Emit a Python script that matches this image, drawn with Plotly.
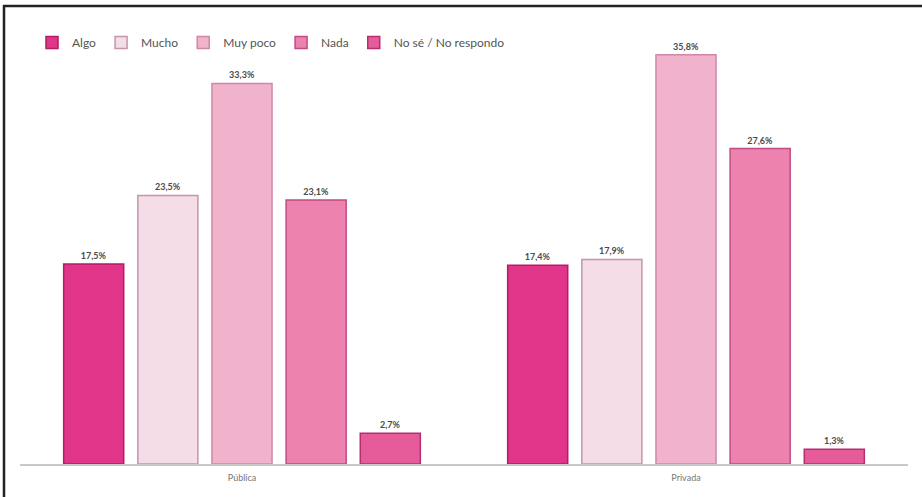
import plotly.graph_objects as go

categories = ["Pública", "Privada"]
series_names = ["Algo", "Mucho", "Muy poco", "Nada", "No sé / No respondo"]
algo = [17.5, 17.4]
mucho = [23.5, 17.9]
muy_poco = [33.3, 35.8]
nada = [23.1, 27.6]
no_se = [2.7, 1.3]
series_values = [algo, mucho, muy_poco, nada, no_se]

fills = ["#E1358A", "#F4DDE7", "#F1B2CC", "#EC82AD", "#E65C9B"]
lines = ["#B31C66", "#C495AB", "#D087AA", "#C04C86", "#B3306F"]

W, H = 922, 497
ml, mr, mt, mb = 20, 14, 40, 33
pw, ph = W - ml - mr, H - mt - mb

fig = go.Figure()
for name, vals, fc, lc in zip(series_names, series_values, fills, lines):
    fig.add_trace(go.Bar(
        x=categories, y=vals, name=name,
        marker=dict(color=fc, line=dict(color=lc, width=1.5)),
        text=[f"{v:.1f}%".replace(".", ",") for v in vals],
        textposition="outside", cliponaxis=False,
        textfont=dict(family="Lato", size=9, color="#4a4a4a", weight="bold"),
    ))

def px_x(p):
    return (p - ml) / pw

def px_y(p):
    return (H - mb - p) / ph

fig.update_layout(
    width=W, height=H,
    margin=dict(l=ml, r=mr, t=mt, b=mb),
    paper_bgcolor="white", plot_bgcolor="white",
    barmode="group", bargap=0.165, bargroupgap=0.19,
    font=dict(family="Lato", color="#555"),
    showlegend=True,
    legend=dict(orientation="h", x=px_x(32), xanchor="left", y=px_y(28), yanchor="top",
                font=dict(family="Lato", size=12, color="#555"),
                itemwidth=30, traceorder="normal", bgcolor="rgba(0,0,0,0)"),
    xaxis=dict(showgrid=False, showline=True, linecolor="#c8c8c8", linewidth=1.5,
               ticks="", tickfont=dict(family="Lato", size=9, color="#777"), ticklabelstandoff=4),
    yaxis=dict(range=[0, 37.1], visible=False, showgrid=False),
    shapes=[
        dict(type="line", xref="paper", yref="paper", x0=px_x(3), x1=px_x(922), y0=px_y(6), y1=px_y(6),
             line=dict(color="#222", width=2.5)),
        dict(type="line", xref="paper", yref="paper", x0=px_x(4), x1=px_x(4), y0=px_y(5), y1=px_y(497),
             line=dict(color="#222", width=2.5)),
    ],
)

fig.write_html(
    "out.html",
    config={"displayModeBar": False},
    post_script="document.body.style.margin='0';document.documentElement.style.overflow='hidden';document.body.style.overflow='hidden';",
)
